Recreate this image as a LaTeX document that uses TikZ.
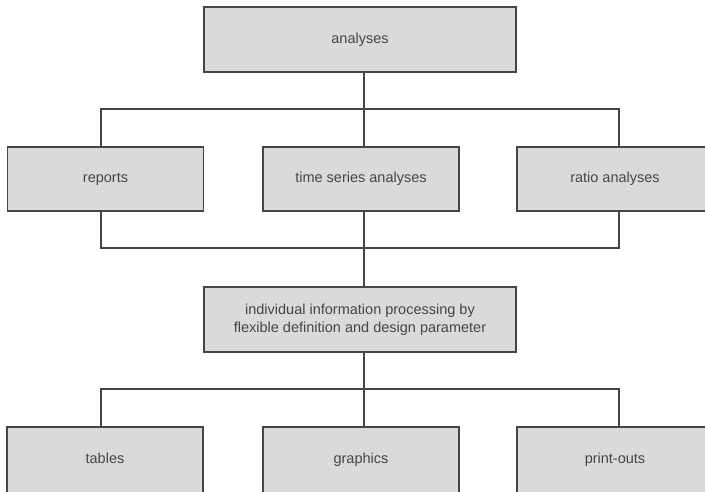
\documentclass[tikz,border=0pt]{standalone}
\usepackage{fontspec}
\setmainfont{Liberation Sans}
\begin{document}
\begin{tikzpicture}[x=1pt,y=1pt,
  box/.style={draw=boxline, fill=boxfill, line width=1.8pt, inner sep=2pt,
    minimum width=#1, minimum height=64pt, align=center, text=labeltext,
    font=\fontsize{14.5}{18}\selectfont},
  box/.default=196pt,
  oneline/.style={text height=10.5pt, text depth=3pt},
  link/.style={draw=linkcol, line width=1.8pt}]
\definecolor{boxfill}{RGB}{218,218,218}
\definecolor{boxline}{RGB}{70,70,70}
\definecolor{linkcol}{RGB}{68,68,68}
\definecolor{labeltext}{RGB}{70,70,70}
\useasboundingbox (0,0) rectangle (705,-491);
\clip (0,0) rectangle (705,-491);

% branching points of the connector buses
\coordinate (trunk1) at (364,-109);
\coordinate (busL1) at (101,-109);
\coordinate (busR1) at (619,-109);
\coordinate (busL2) at (101,-248);
\coordinate (busR2) at (619,-248);
\coordinate (busL3) at (101,-389);
\coordinate (busR3) at (619,-389);

% boxes
\node[box=312pt, minimum height=65pt, oneline] (analyses) at (360,-39.5) {analyses};
\node[box, oneline] (reports) at (105.5,-179) {reports};
\node[box, oneline] (timeseries) at (361,-179) {time series analyses};
\node[box, oneline] (ratio) at (615,-179) {ratio analyses};
\node[box=312pt, minimum height=65pt] (individual) at (360,-319.5)
  {individual information processing by\\flexible definition and design parameter};
% lower row runs past the bottom edge; the deeper text box lifts the label
\tikzset{lowrow/.style={box, text height=10.5pt, text depth=9pt, minimum height=72pt}}
\node[lowrow] (tables) at (105,-463) {tables};
\node[lowrow] (graphics) at (361,-463) {graphics};
\node[lowrow] (printouts) at (615,-463) {print-outs};

% connectors
\draw[link] (analyses.south -| trunk1) -- (timeseries.north -| trunk1);
\draw[link] (reports.north -| busL1) -- (busL1) -- (busR1) -- (ratio.north -| busR1);
\draw[link] (reports.south -| busL2) -- (busL2) -- (busR2) -- (ratio.south -| busR2);
\draw[link] (timeseries.south -| trunk1) -- (individual.north -| trunk1);
\draw[link] (individual.south -| trunk1) -- (graphics.north -| trunk1);
\draw[link] (tables.north -| busL3) -- (busL3) -- (busR3) -- (printouts.north -| busR3);
\end{tikzpicture}
\end{document}
